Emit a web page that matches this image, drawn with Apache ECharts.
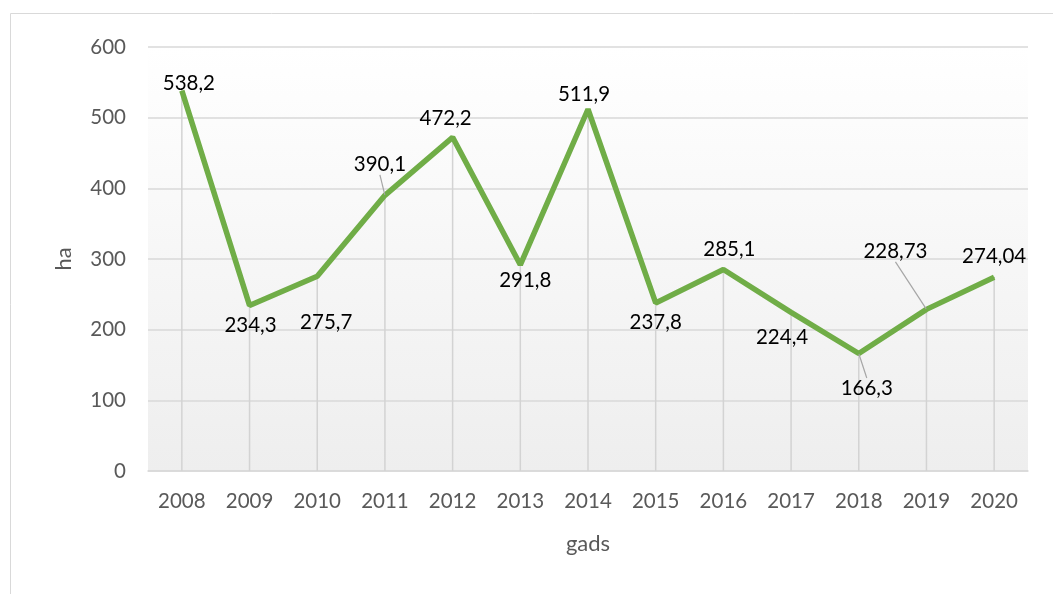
<!DOCTYPE html>
<html><head><meta charset="utf-8">
<script src="https://cdn.jsdelivr.net/npm/echarts@6/dist/echarts.min.js"></script>
<style>html,body{margin:0;padding:0;background:#fff}#c{width:1053px;height:594px}</style>
</head><body><div id="c"></div>
<script>
const years = ['2008','2009','2010','2011','2012','2013','2014','2015','2016','2017','2018','2019','2020'];
const areaHa = [538.2, 234.3, 275.7, 390.1, 472.2, 291.8, 511.9, 237.8, 285.1, 224.4, 166.3, 228.73, 274.04];
const yTicks = [0, 100, 200, 300, 400, 500, 600];

// label placement (pixel offsets from each point), kept separate from data
const labelShift = [[7,-7],[1,20],[9,46],[-5,-31],[-7,-19],[5,16],[-4,-15],[0,19],[6,-20],[-9,25],[8,35],[-31,-58],[0,-21]];
const withLeader = [3, 10, 11];

const fmt = v => String(v).replace('.', ',');
const chart = echarts.init(document.getElementById('c'));
chart.setOption({
  animation: false,
  textStyle: { fontFamily: 'Lato, "Open Sans", sans-serif' },
  graphic: [{ type: 'rect', shape: { x: 10.5, y: 13.5, width: 1200, height: 800 },
    style: { fill: 'none', stroke: '#d9d9d9', lineWidth: 1 }, z: -10 }],
  grid: { left: 148, right: 25, top: 47, bottom: 123, show: true, borderWidth: 0,
    backgroundColor: { type: 'linear', x: 0, y: 0, x2: 0, y2: 1,
      colorStops: [{ offset: 0, color: '#ffffff' }, { offset: 1, color: '#eeeeee' }] } },
  xAxis: { type: 'category', data: years, boundaryGap: true,
    name: 'gads', nameLocation: 'middle', nameGap: 62,
    nameTextStyle: { color: '#595959', fontSize: 22 },
    axisLine: { lineStyle: { color: '#d9d9d9', width: 1.5 } },
    axisTick: { show: false },
    axisLabel: { color: '#595959', fontSize: 20.5, margin: 20 },
    splitLine: { show: false } },
  yAxis: { type: 'value', min: yTicks[0], max: yTicks[yTicks.length-1], interval: 100,
    name: 'ha', nameLocation: 'middle', nameGap: 73, nameRotate: 90,
    nameTextStyle: { color: '#595959', fontSize: 22 },
    axisLine: { show: false }, axisTick: { show: false },
    axisLabel: { color: '#595959', fontSize: 20.5, margin: 22 },
    splitLine: { lineStyle: { color: '#d9d9d9', width: 1.5 } } },
  series: [
    { type: 'bar', data: areaHa, barWidth: 1.5, silent: true, z: 1,
      itemStyle: { color: '#d3d3d3' } },
    { type: 'line', z: 3, data: areaHa.map((v, i) => ({ value: v,
        labelLine: { show: withLeader.includes(i), lineStyle: { color: '#a6a6a6', width: 1.2 } } })),
      symbol: 'circle', symbolSize: 1, showSymbol: true,
      lineStyle: { color: '#70ad47', width: 5.5 }, itemStyle: { color: '#70ad47' },
      label: { show: true, position: 'inside', color: '#000', fontSize: 20.5,
        formatter: p => fmt(p.value) },
      labelLine: { show: false, smooth: false, length2: 0 },
      labelLayout: p => ({ dx: labelShift[p.dataIndex][0], dy: labelShift[p.dataIndex][1] }) }
  ]
});
</script></body></html>
